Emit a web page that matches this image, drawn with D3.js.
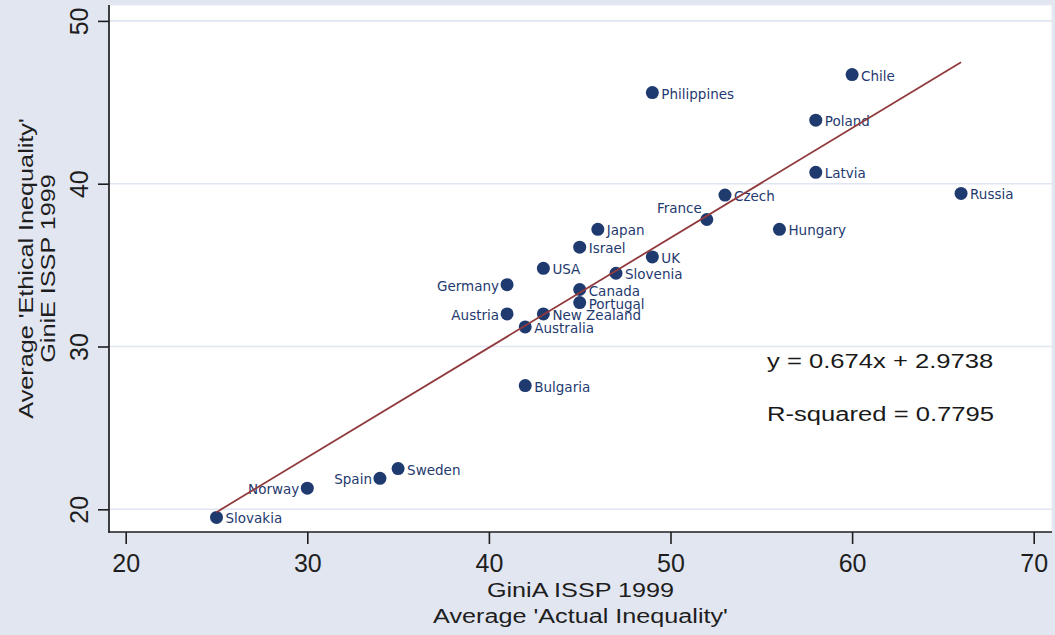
<!DOCTYPE html>
<html>
<head>
<meta charset="utf-8">
<script src="https://cdn.jsdelivr.net/npm/d3@7"></script>
<style>
  html, body { margin: 0; padding: 0; background: #e2e6f1; }
  svg { display: block; }
</style>
</head>
<body>
<svg id="chart" width="1055" height="635"></svg>
<script>
// ISSP 1999: actual vs. ethical (just) inequality, by country
const countries = ["Slovakia", "Norway", "Spain", "Sweden", "Bulgaria", "Australia", "Austria",
  "New Zealand", "Portugal", "Canada", "Germany", "USA", "Slovenia", "UK", "Israel", "Japan",
  "France", "Czech", "Hungary", "Latvia", "Russia", "Poland", "Chile", "Philippines"];
const giniActual = [25, 30, 34, 35, 42, 42, 41, 43, 45, 45, 41, 43, 47, 49, 45, 46,
  52, 53, 56, 58, 66, 58, 60, 49];
const giniEthical = [19.5, 21.3, 21.9, 22.5, 27.6, 31.2, 32.0, 32.0, 32.7, 33.5, 33.8, 34.8, 34.5, 35.5, 36.1, 37.2,
  37.8, 39.3, 37.2, 40.7, 39.4, 43.9, 46.7, 45.6];

const xTicks = [20, 30, 40, 50, 60, 70];
const yTicks = [20, 30, 40, 50];

// Linear fit reported with the chart
const fitSlope = 0.674;
const fitIntercept = 2.9738;
const fitR2 = 0.7795;

const xTitle = ["GiniA ISSP 1999", "Average 'Actual Inequality'"];
const yTitle = ["Average 'Ethical Inequality'", "GiniE ISSP 1999"];

// Marker label placement (clock positions); default is 3 o'clock
const labelsLeft = new Set(["Germany", "Austria", "Norway", "Spain"]);
const labelsUpperLeft = new Set(["France"]);

const svg = d3.select("#chart");
const W = 1055, H = 635;
const plot = { left: 109, right: 1052, top: 5, bottom: 532 };

const navy = "#1f3a6f";
const maroon = "#913a3d";
const gridColor = "#dfe5f1";
const axisColor = "#1e1e1e";

svg.append("rect").attr("width", W).attr("height", H).attr("fill", "#e2e6f1");
svg.append("rect")
  .attr("x", plot.left).attr("y", plot.top)
  .attr("width", plot.right - plot.left).attr("height", plot.bottom - plot.top)
  .attr("fill", "#ffffff").attr("stroke", "#e6eaf3").attr("stroke-width", 1);

const x = d3.scaleLinear()
  .domain([20 + (plot.left - 125.7) / 18.16, 20 + (plot.right - 125.7) / 18.16])
  .range([plot.left, plot.right]);
const y = d3.scaleLinear()
  .domain([20 - (plot.bottom - 509.3) / 16.28, 20 + (509.3 - plot.top) / 16.28])
  .range([plot.bottom, plot.top]);

// Horizontal grid lines
svg.append("g").selectAll("line").data(yTicks).join("line")
  .attr("x1", plot.left).attr("x2", plot.right)
  .attr("y1", d => y(d)).attr("y2", d => y(d))
  .attr("stroke", gridColor).attr("stroke-width", 1.6);

// Axes
const xAxis = svg.append("g")
  .attr("transform", `translate(0,${plot.bottom})`)
  .call(d3.axisBottom(x).tickValues(xTicks).tickSize(12).tickPadding(8).tickFormat(d3.format("d")));
const yAxis = svg.append("g")
  .attr("transform", `translate(${plot.left},0)`)
  .call(d3.axisLeft(y).tickValues(yTicks).tickSize(11).tickFormat(d3.format("d")));

[xAxis, yAxis].forEach(a => {
  a.select(".domain").remove();
  a.selectAll(".tick line").attr("stroke", axisColor).attr("stroke-width", 1.6);
  a.selectAll(".tick text")
    .attr("fill", axisColor)
    .style("font-family", "'Liberation Sans', Arial, sans-serif")
    .style("font-size", "25px");
});
xAxis.selectAll(".tick text").attr("y", 0).attr("dy", null).attr("transform", "translate(0,40)");
yAxis.selectAll(".tick text")
  .attr("x", null).attr("dy", null)
  .attr("text-anchor", "middle")
  .attr("transform", "translate(-21,0) rotate(-90)");

// Axis lines
svg.append("line").attr("x1", plot.left).attr("x2", plot.left)
  .attr("y1", plot.top).attr("y2", plot.bottom + 0.8)
  .attr("stroke", axisColor).attr("stroke-width", 1.7);
svg.append("line").attr("x1", plot.left - 0.8).attr("x2", plot.right)
  .attr("y1", plot.bottom).attr("y2", plot.bottom)
  .attr("stroke", axisColor).attr("stroke-width", 1.7);

// Titles (Helvetica-style, slightly widened)
function wideText(str, tx, ty, rot, size, sx, color) {
  svg.append("text")
    .attr("transform", `translate(${tx},${ty}) rotate(${rot}) scale(${sx},1)`)
    .attr("text-anchor", "middle")
    .attr("fill", color)
    .style("font-family", "'Liberation Sans', Arial, sans-serif")
    .style("font-size", size + "px")
    .text(str);
}
const cx = (plot.left + plot.right) / 2;
const cy = (plot.top + plot.bottom) / 2;
wideText(xTitle[0], cx, 597, 0, 21, 1.2, axisColor);
wideText(xTitle[1], cx, 623, 0, 21, 1.2, axisColor);
wideText(yTitle[0], 33, cy, -90, 21, 1.2, axisColor);
wideText(yTitle[1], 55, cy, -90, 21, 1.2, axisColor);

// Scatter points
const pts = countries.map((c, i) => ({ name: c, a: giniActual[i], e: giniEthical[i] }));

svg.append("g").selectAll("circle").data(pts).join("circle")
  .attr("cx", d => x(d.a)).attr("cy", d => y(d.e))
  .attr("r", 6.5).attr("fill", navy);

svg.append("g").selectAll("text").data(pts).join("text")
  .attr("x", d => {
    if (labelsLeft.has(d.name)) return x(d.a) - 8;
    if (labelsUpperLeft.has(d.name)) return x(d.a) - 5;
    return x(d.a) + 9;
  })
  .attr("y", d => labelsUpperLeft.has(d.name) ? y(d.e) - 6.5 : y(d.e) + 6)
  .attr("text-anchor", d => (labelsLeft.has(d.name) || labelsUpperLeft.has(d.name)) ? "end" : "start")
  .attr("fill", navy)
  .style("font-family", "'DejaVu Sans', Verdana, sans-serif")
  .style("font-size", "13.5px")
  .text(d => d.name);

// Fitted line over the observed range
const xr = d3.extent(giniActual);
svg.append("line")
  .attr("x1", x(xr[0])).attr("y1", y(fitSlope * xr[0] + fitIntercept))
  .attr("x2", x(xr[1])).attr("y2", y(fitSlope * xr[1] + fitIntercept))
  .attr("stroke", maroon).attr("stroke-width", 1.8);

// Fit annotation
function annot(str, ty) {
  svg.append("text")
    .attr("transform", `translate(767,${ty}) scale(1.22,1)`)
    .attr("fill", "#1a1a1a")
    .style("font-family", "'Liberation Sans', Arial, sans-serif")
    .style("font-size", "21px")
    .text(str);
}
annot(`y = ${fitSlope}x + ${fitIntercept}`, 368);
annot(`R-squared = ${fitR2}`, 421);
</script>
</body>
</html>
